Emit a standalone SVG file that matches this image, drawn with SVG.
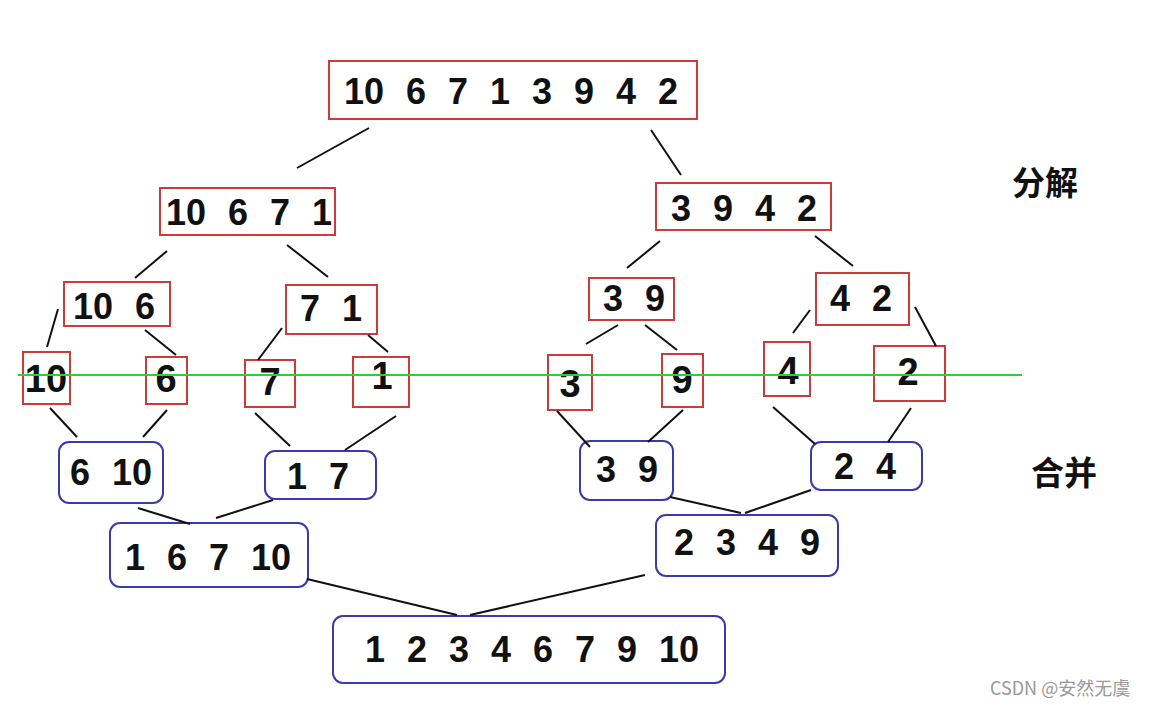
<svg xmlns="http://www.w3.org/2000/svg" width="1156" height="705" viewBox="0 0 1156 705">
<style>
.r{fill:#fff;stroke:#cc3a3a;stroke-width:2}
.b{fill:#fff;stroke:#3a3aaa;stroke-width:2}
.t{font-family:"Liberation Sans",Arial,sans-serif;font-weight:bold;font-size:36px;fill:#111;text-anchor:middle;word-spacing:12px}
.lf{font-size:38px}
.cn{font-family:"Noto Sans CJK SC",sans-serif;font-weight:bold;font-size:33px;fill:#111}
.w{font-family:"Noto Sans CJK SC",sans-serif;font-size:18px;fill:#999}
.c line{stroke:#111;stroke-width:2}
</style>
<rect width="1156" height="705" fill="#fff"/>
<g id="n-top"><rect class="r" x="329" y="61" width="368" height="58"/><text class="t" x="511" y="104">10 6 7 1 3 9 4 2</text></g>
<g id="n-l"><rect class="r" x="160" y="188" width="175" height="47"/><text class="t" x="249" y="225">10 6 7 1</text></g>
<g id="n-r"><rect class="r" x="656" y="183" width="175" height="47"/><text class="t" x="744" y="221">3 9 4 2</text></g>
<g id="n-ll"><rect class="r" x="64" y="282" width="106" height="44"/><text class="t" x="114" y="319">10 6</text></g>
<g id="n-lr"><rect class="r" x="286" y="285" width="91" height="49"/><text class="t" x="331" y="321">7 1</text></g>
<g id="n-rl"><rect class="r" x="589" y="278" width="85" height="42"/><text class="t" x="634" y="311">3 9</text></g>
<g id="n-rr"><rect class="r" x="816" y="273" width="93" height="52"/><text class="t" x="861" y="311">4 2</text></g>
<g id="leaf10"><rect class="r" x="23" y="352" width="47" height="52"/><text class="t lf" x="46" y="392">10</text></g>
<g id="leaf6"><rect class="r" x="146" y="357" width="41" height="47"/><text class="t lf" x="166" y="392">6</text></g>
<g id="leaf7"><rect class="r" x="245" y="360" width="50" height="47"/><text class="t lf" x="270" y="395">7</text></g>
<g id="leaf1"><rect class="r" x="353" y="357" width="56" height="50"/><text class="t lf" x="382" y="389">1</text></g>
<g id="leaf3"><rect class="r" x="548" y="355" width="44" height="55"/><text class="t lf" x="570" y="397">3</text></g>
<g id="leaf9"><rect class="r" x="662" y="354" width="41" height="53"/><text class="t lf" x="682" y="393">9</text></g>
<g id="leaf4"><rect class="r" x="764" y="342" width="46" height="54"/><text class="t lf" x="788" y="384">4</text></g>
<g id="leaf2"><rect class="r" x="874" y="346" width="71" height="55"/><text class="t lf" x="908" y="385">2</text></g>
<line x1="18" y1="375" x2="1022" y2="375" stroke="#33cc33" stroke-width="2"/>
<g id="m-610"><rect class="b" x="59" y="442" width="104" height="61" rx="10"/><text class="t" x="111" y="485">6 10</text></g>
<g id="m-17"><rect class="b" x="265" y="451" width="111" height="48" rx="10"/><text class="t" x="318" y="489">1 7</text></g>
<g id="m-39"><rect class="b" x="580" y="441" width="93" height="59" rx="10"/><text class="t" x="627" y="482">3 9</text></g>
<g id="m-24"><rect class="b" x="811" y="442" width="111" height="48" rx="10"/><text class="t" x="865" y="479">2 4</text></g>
<g id="m-16710"><rect class="b" x="110" y="523" width="198" height="64" rx="10"/><text class="t" x="208" y="570">1 6 7 10</text></g>
<g id="m-2349"><rect class="b" x="656" y="515" width="182" height="61" rx="10"/><text class="t" x="747" y="555">2 3 4 9</text></g>
<g id="m-final"><rect class="b" x="333" y="616" width="392" height="67" rx="10"/><text class="t" x="532" y="662">1 2 3 4 6 7 9 10</text></g>
<g class="c" id="connectors">
<line x1="369" y1="128" x2="297" y2="168"/>
<line x1="651" y1="130" x2="681" y2="175"/>
<line x1="167" y1="251" x2="135" y2="278"/>
<line x1="287" y1="245" x2="328" y2="277"/>
<line x1="660" y1="241" x2="627" y2="268"/>
<line x1="815" y1="236" x2="853" y2="266"/>
<line x1="58" y1="309" x2="47" y2="347"/>
<line x1="145" y1="330" x2="176" y2="355"/>
<line x1="282" y1="328" x2="258" y2="360"/>
<line x1="368" y1="335" x2="388" y2="352"/>
<line x1="618" y1="325" x2="586" y2="344"/>
<line x1="645" y1="325" x2="677" y2="350"/>
<line x1="810" y1="310" x2="793" y2="333"/>
<line x1="915" y1="307" x2="936" y2="346"/>
<line x1="50" y1="408" x2="77" y2="437"/>
<line x1="167" y1="410" x2="143" y2="437"/>
<line x1="255" y1="413" x2="290" y2="446"/>
<line x1="396" y1="416" x2="345" y2="450"/>
<line x1="557" y1="411" x2="590" y2="447"/>
<line x1="683" y1="410" x2="648" y2="442"/>
<line x1="773" y1="407" x2="815" y2="444"/>
<line x1="911" y1="408" x2="888" y2="442"/>
<line x1="138" y1="508" x2="190" y2="524"/>
<line x1="273" y1="500" x2="216" y2="518"/>
<line x1="670" y1="497" x2="741" y2="513"/>
<line x1="811" y1="490" x2="745" y2="513"/>
<line x1="307" y1="579" x2="457" y2="615"/>
<line x1="645" y1="575" x2="470" y2="615"/>
</g>
<text class="cn" x="1012" y="195">分解</text>
<text class="cn" x="1031" y="485">合并</text>
<text class="w" x="990" y="695">CSDN @安然无虞</text>
</svg>
